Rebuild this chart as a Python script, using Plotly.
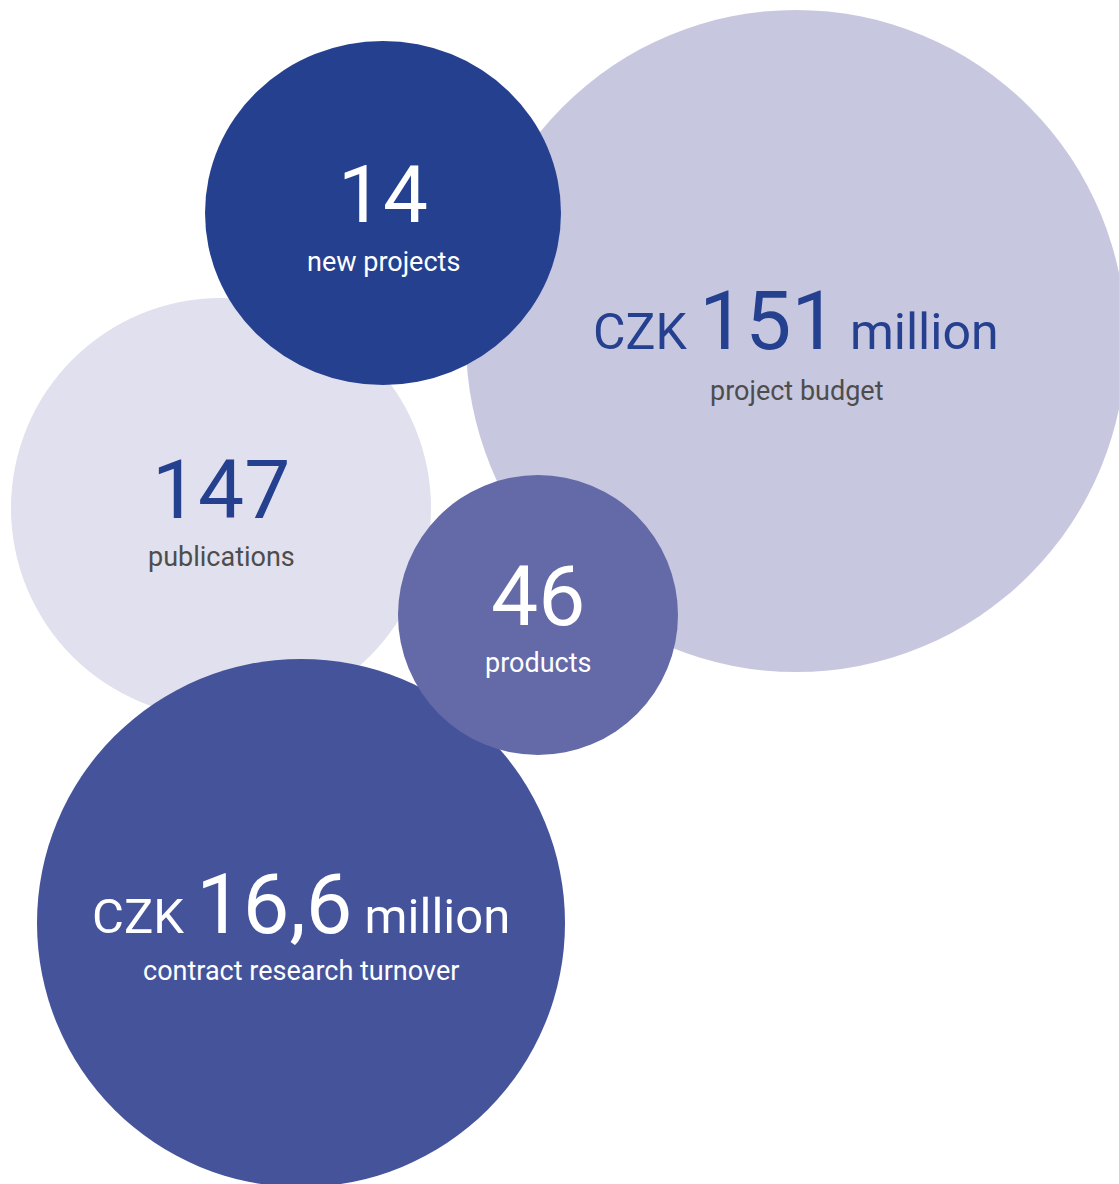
import plotly.graph_objects as go

# ---- data ----
metrics = ["project budget", "publications", "new projects", "contract research turnover", "products"]
values = ["151", "147", "14", "16,6", "46"]
prefixes = ["CZK ", "", "", "CZK ", ""]
suffixes = [" million", "", "", " million", ""]

# ---- layout (pixel space) ----
centers_x = [796, 221, 383, 301, 538]
centers_y = [341, 508, 213, 923, 615]
radii_x = [330, 210, 178, 264, 140]
radii_y = [331, 210, 172, 264, 140]
fill_colors = ["#C8C7E0", "#E0E0EE", "#25408F", "#45549A", "#6469A7"]
number_colors = ["#25408F", "#25408F", "#FFFFFF", "#FFFFFF", "#FFFFFF"]
label_colors = ["#4D4D4D", "#4D4D4D", "#FFFFFF", "#FFFFFF", "#FFFFFF"]
number_sizes = [82, 82, 80, 83, 84]
unit_sizes = [50, 0, 0, 49, 0]
num_offsets = [-20, -18, -18, -19, -19]
label_offsets = [50, 49, 49, 48, 48]
label_size = 27

FONT = "Roboto"
W, H = 1119, 1184

fig = go.Figure()
fig.add_trace(go.Scatter(x=[0, W], y=[0, H], mode="markers",
                         marker=dict(opacity=0), hoverinfo="skip", showlegend=False))

for i in range(len(metrics)):
    fig.add_shape(type="circle", xref="x", yref="y",
                  x0=centers_x[i] - radii_x[i], x1=centers_x[i] + radii_x[i],
                  y0=centers_y[i] - radii_y[i], y1=centers_y[i] + radii_y[i],
                  fillcolor=fill_colors[i], line=dict(width=0), layer="below")

for i in range(len(metrics)):
    txt = ""
    if prefixes[i]:
        txt += f"<span style='font-size:{unit_sizes[i]}px'>{prefixes[i]}</span>"
    txt += values[i]
    if suffixes[i]:
        txt += f"<span style='font-size:{unit_sizes[i]}px'>{suffixes[i]}</span>"
    fig.add_annotation(x=centers_x[i], y=centers_y[i] + num_offsets[i], xref="x", yref="y",
                       text=txt, showarrow=False, xanchor="center", yanchor="middle",
                       font=dict(family=FONT, size=number_sizes[i], color=number_colors[i]))
    fig.add_annotation(x=centers_x[i], y=centers_y[i] + label_offsets[i], xref="x", yref="y",
                       text=metrics[i], showarrow=False, xanchor="center", yanchor="middle",
                       font=dict(family=FONT, size=label_size, color=label_colors[i]))

fig.update_xaxes(range=[0, W], visible=False, fixedrange=True)
fig.update_yaxes(range=[H, 0], visible=False, fixedrange=True)
fig.update_layout(width=W, height=H, margin=dict(l=0, r=0, t=0, b=0),
                  paper_bgcolor="white", plot_bgcolor="white", showlegend=False)

fig.write_html("out.html", config={"displayModeBar": False},
               post_script="document.body.style.margin='0';document.body.style.overflow='hidden';")
